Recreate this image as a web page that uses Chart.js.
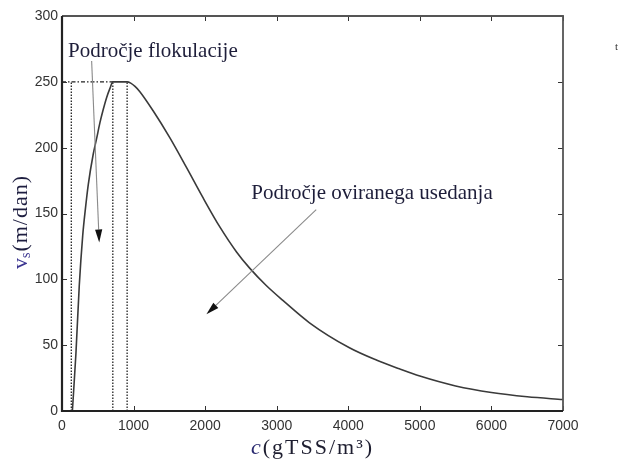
<!DOCTYPE html>
<html><head><meta charset="utf-8">
<script src="https://cdn.jsdelivr.net/npm/chart.js@4.4.1/dist/chart.umd.min.js"></script>
<style>html,body{margin:0;padding:0;background:#fff}canvas{display:block}</style>
</head><body><canvas id="c" width="621" height="460"></canvas>
<script>
// ---- data ----
const curveC = [145, 195, 241, 289, 330, 367, 436, 484, 530, 576, 623, 670, 710, 800, 910, 960, 1020, 1088, 1273, 1506, 1739, 1970, 2203, 2436, 2622, 2850, 3086, 3458, 4016, 4400, 4713, 5000, 5500, 6000, 6500, 7000];
const curveV = [0, 44, 95, 133, 155, 172, 195, 207, 219, 229, 238, 245, 250, 250, 250, 249, 246.5, 242.5, 228, 207.6, 185, 162, 140, 121, 108.5, 95.5, 84, 67, 48, 38.5, 32, 26.5, 19, 14, 10.8, 8.7];
const xTickValues = [0, 1000, 2000, 3000, 4000, 5000, 6000, 7000];
const yTickValues = [0, 50, 100, 150, 200, 250, 300];
const guideC = [130, 710, 910];
const plateauV = 250;
const plateauStartC = 710;
const noteTexts = ["Področje flokulacije", "Področje oviranega usedanja"];
const noteAnchors = [[84, 268.6], [2645, 160.8]];
const arrowFrom = [[414, 265.8], [3552, 153]];
const arrowTo = [[520, 128], [2018, 73.4]];

const curvePts = curveC.map((c, i) => ({x: c, y: curveV[i]}));
const datasets = [];
datasets.push({
  data: curvePts, showLine: true, borderColor: '#3a3a3a', borderWidth: 1.6,
  pointRadius: 0, cubicInterpolationMode: 'monotone', fill: false
});
guideC.forEach(c => datasets.push({
  data: [{x: c, y: 0}, {x: c, y: plateauV}], showLine: true, borderColor: '#222',
  borderWidth: 1.3, borderDash: [1.6, 1.4], pointRadius: 0
}));
datasets.push({
  data: [{x: 0, y: plateauV}, {x: plateauStartC, y: plateauV}], showLine: true,
  borderColor: '#222', borderWidth: 1.2, borderDash: [4, 2, 1.5, 2], pointRadius: 0
});

const decor = {
  id: 'decor',
  afterDraw(chart) {
    const ctx = chart.ctx, xs = chart.scales.x, ys = chart.scales.y, a = chart.chartArea;
    ctx.save();
    // inward ticks
    ctx.strokeStyle = '#333'; ctx.lineWidth = 1;
    const tl = 5;
    xTickValues.forEach(v => {
      const px = Math.round(xs.getPixelForValue(v)) + 0.5;
      ctx.beginPath(); ctx.moveTo(px, a.bottom); ctx.lineTo(px, a.bottom - tl);
      ctx.moveTo(px, a.top); ctx.lineTo(px, a.top + tl); ctx.stroke();
    });
    yTickValues.forEach(v => {
      const py = Math.round(ys.getPixelForValue(v)) + 0.5;
      ctx.beginPath(); ctx.moveTo(a.left, py); ctx.lineTo(a.left + tl, py);
      ctx.moveTo(a.right, py); ctx.lineTo(a.right - tl, py); ctx.stroke();
    });
    // frame
    ctx.strokeStyle = '#555'; ctx.lineWidth = 1.8;
    ctx.beginPath(); ctx.moveTo(a.left, a.top); ctx.lineTo(a.right, a.top); ctx.lineTo(a.right, a.bottom); ctx.stroke();
    ctx.strokeStyle = '#222'; ctx.lineWidth = 2.2;
    ctx.beginPath(); ctx.moveTo(a.left, a.top); ctx.lineTo(a.left, a.bottom); ctx.lineTo(a.right, a.bottom); ctx.stroke();

    // arrows
    arrowFrom.forEach((f, i) => {
      const x1 = xs.getPixelForValue(f[0]), y1 = ys.getPixelForValue(f[1]);
      const x2 = xs.getPixelForValue(arrowTo[i][0]), y2 = ys.getPixelForValue(arrowTo[i][1]);
      const ang = Math.atan2(y2 - y1, x2 - x1);
      const L = 13, W = 3.6;
      const bx = x2 - L * Math.cos(ang), by = y2 - L * Math.sin(ang);
      ctx.strokeStyle = '#8a8a8a'; ctx.lineWidth = 1.1;
      ctx.beginPath(); ctx.moveTo(x1, y1); ctx.lineTo(bx, by); ctx.stroke();
      ctx.fillStyle = '#111';
      ctx.beginPath(); ctx.moveTo(x2, y2);
      ctx.lineTo(bx + W * Math.sin(ang), by - W * Math.cos(ang));
      ctx.lineTo(bx - W * Math.sin(ang), by + W * Math.cos(ang));
      ctx.closePath(); ctx.fill();
    });

    // annotation texts
    ctx.font = '21px "Liberation Serif", "Times New Roman", serif';
    ctx.fillStyle = '#1e1e3a'; ctx.textAlign = 'left'; ctx.textBaseline = 'alphabetic';
    noteTexts.forEach((t, i) => {
      ctx.fillText(t, xs.getPixelForValue(noteAnchors[i][0]), ys.getPixelForValue(noteAnchors[i][1]));
    });

    // stray mark at the far right
    ctx.font = '11px "Liberation Serif", serif';
    ctx.fillStyle = '#333';
    ctx.fillText('t', 615, 50);

    // x axis title: c(gTSS/m³)
    const serif = '"Liberation Serif", "Times New Roman", serif';
    const fBig = '22px ' + serif, fIt = 'italic 22px ' + serif;
    ctx.letterSpacing = '2px';
    ctx.font = fIt; const wc = ctx.measureText('c').width;
    ctx.font = fBig; const wr = ctx.measureText('(gTSS/m³)').width;
    let sx = (a.left + a.right) / 2 - (wc + wr) / 2;
    const by = 454;
    ctx.font = fIt; ctx.fillStyle = '#2a2a70'; ctx.fillText('c', sx, by);
    ctx.font = fBig; ctx.fillStyle = '#1e1e30'; ctx.fillText('(gTSS/m³)', sx + wc, by);

    // y axis title: v_s(m/dan)
    ctx.letterSpacing = '1px';
    ctx.save();
    ctx.translate(27, (a.top + a.bottom) / 2 + 8);
    ctx.rotate(-Math.PI / 2);
    ctx.font = fBig; const wv = ctx.measureText('v').width;
    const fSub = '14px ' + serif;
    ctx.font = fSub; const ws = ctx.measureText('s').width;
    ctx.font = fBig; const wm = ctx.measureText('(m/dan)').width;
    let tx = -(wv + ws + wm) / 2;
    ctx.fillStyle = '#3a3490';
    ctx.font = fBig; ctx.fillText('v', tx, 0);
    ctx.font = fSub; ctx.fillText('s', tx + wv - 1, 3);
    ctx.fillStyle = '#1e1e40';
    ctx.font = fBig; ctx.fillText('(m/dan)', tx + wv + ws - 1, 0);
    ctx.restore();
    ctx.letterSpacing = '0px';

    ctx.restore();
  }
};

const tickFont = {family: '"Liberation Sans", Arial, sans-serif', size: 14};
new Chart(document.getElementById('c'), {
  type: 'scatter',
  data: {datasets},
  options: {
    responsive: false, animation: false, devicePixelRatio: 1,
    layout: {padding: {left: 0, right: 58, top: 16, bottom: 0}},
    plugins: {legend: {display: false}, tooltip: {enabled: false}},
    scales: {
      x: {
        type: 'linear', min: 0, max: 7000,
        afterBuildTicks: s => { s.ticks = xTickValues.map(v => ({value: v})); },
        afterFit: s => { s.height = 49; },
        grid: {display: false, drawTicks: false}, border: {display: false},
        ticks: {padding: 7, color: '#333', font: tickFont, maxRotation: 0, callback: v => String(v)}
      },
      y: {
        type: 'linear', min: 0, max: 300,
        afterBuildTicks: s => { s.ticks = yTickValues.map(v => ({value: v})); },
        afterFit: s => { s.width = 62; },
        grid: {display: false, drawTicks: false}, border: {display: false},
        ticks: {padding: 4, color: '#333', font: tickFont, callback: v => String(v)}
      }
    }
  },
  plugins: [decor]
});
</script>
</body></html>
